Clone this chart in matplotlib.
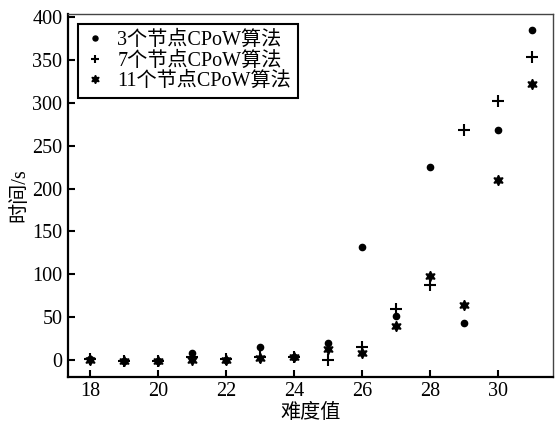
import matplotlib
matplotlib.use('Agg')
import matplotlib.pyplot as plt

plt.rcParams['font.family'] = ['Liberation Serif', 'Noto Sans CJK SC']
plt.rcParams['font.size'] = 14.5

# 难度值
difficulty = [18, 19, 20, 21, 22, 23, 24, 25, 26, 27, 28, 29, 30, 31]
# 各节点数量下的耗时 (s)
t_3 = [0.5, -1, -1.5, 7.5, 0, 15.5, 3.5, 20, 132, 51, 225, 43, 269, 385]
t_7 = [0.5, -1, -1.5, 3, 0.5, 3.5, 3.5, 0.3, 15.5, 59.5, 87, 269, 302, 354]
t_11 = [0.3, -1.4, -1.8, 0.3, 0, 2, 3.6, 13, 7.6, 39, 98, 64, 210, 322]
labels = ['3个节点CPoW算法', '7个节点CPoW算法', '11个节点CPoW算法']

fig = plt.figure(figsize=(5.55, 4.24), dpi=100)
ax = fig.add_axes([0.1225, 0.111, 0.874, 0.856])

ax.plot(difficulty, t_3, 'o', c='k', ms=4.5, label=labels[0])
ax.plot(difficulty, t_7, '+', c='k', ms=8, mew=1.5, label=labels[1])
ax.plot(difficulty, t_11, marker=(6, 1, 0), ls='none', c='k', ms=7.5, label=labels[2])

ax.set_xlim(17.34, 31.62)
ax.set_ylim(-20, 404)
ax.set_xticks(range(18, 31, 2))
ax.set_yticks(range(0, 401, 50))
ax.tick_params(direction='in', length=5, width=1.5, color='k', pad=4)

for s in ['left', 'bottom']:
    ax.spines[s].set_linewidth(1.6)
for s in ['top', 'right']:
    ax.spines[s].set_linewidth(1.0)
    ax.spines[s].set_color('#444444')

ax.set_xlabel('难度值', labelpad=2)
ax.set_ylabel('时间/s', labelpad=2)

leg = ax.legend(loc='upper left', fancybox=False, edgecolor='k', framealpha=1,
                labelspacing=0.06, handlelength=1.0, handletextpad=0.6,
                borderpad=0.35, borderaxespad=0.5, markerscale=0.8)
leg.get_frame().set_linewidth(1.5)

fig.savefig('out.png')
